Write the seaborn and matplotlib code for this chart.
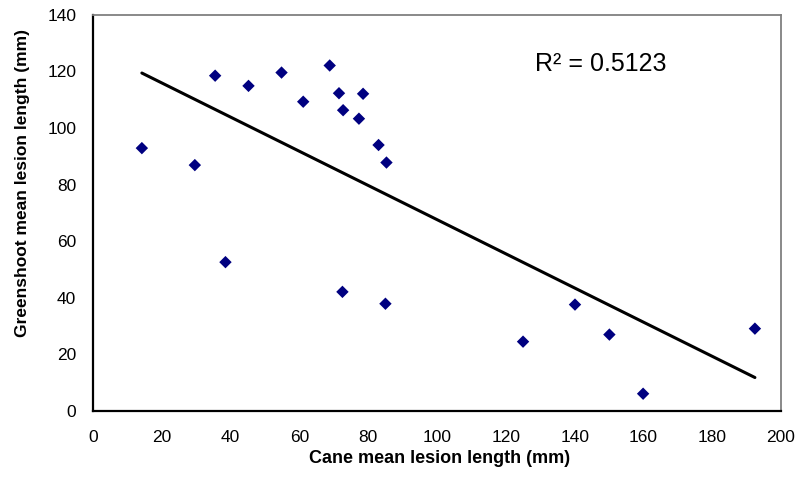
import matplotlib
matplotlib.use("Agg")
import matplotlib.pyplot as plt
import numpy as np
import pandas as pd
import seaborn as sns

# values
cane = [14.2, 29.6, 35.5, 38.5, 45.2, 54.8, 61.1, 68.8, 71.5, 72.7, 72.5,
        77.3, 78.5, 83.0, 85.3, 85.0, 125.0, 140.1, 150.1, 159.9, 192.4]
greenshoot = [92.9, 86.9, 118.5, 52.6, 114.9, 119.6, 109.3, 122.1, 112.3, 106.3, 42.1,
              103.3, 112.1, 94.0, 87.8, 37.9, 24.5, 37.6, 27.0, 6.1, 29.1]
x_ticks = list(range(0, 201, 20))
y_ticks = list(range(0, 141, 20))
r2_label = "R² = 0.5123"

df = pd.DataFrame({"cane": cane, "greenshoot": greenshoot})

sns.set_style("white")
plt.rcParams["font.family"] = ["Liberation Sans", "DejaVu Sans"]
plt.rcParams["text.color"] = "black"
plt.rcParams["axes.labelcolor"] = "black"

fig = plt.figure(figsize=(7.97, 4.79), dpi=100)
ax = fig.add_axes([0.1167, 0.142, 0.8633, 0.827])

sns.regplot(x="cane", y="greenshoot", data=df, ci=None, ax=ax, marker="D",
            scatter_kws={"s": 40, "color": "#000080", "alpha": 1,
                         "edgecolor": "none", "zorder": 3},
            line_kws={"color": "black", "linewidth": 2.2, "zorder": 2})

ax.set_xlim(0, 200)
ax.set_ylim(0, 140)
ax.set_xticks(x_ticks)
ax.set_yticks(y_ticks)
ax.tick_params(direction="in", length=4, width=1, labelsize=12.5, colors="black")
ax.tick_params(axis="x", pad=14)
ax.tick_params(axis="y", pad=12)

for side in ["left", "bottom"]:
    ax.spines[side].set_color("black")
    ax.spines[side].set_linewidth(1.6)
for side in ["top", "right"]:
    ax.spines[side].set_visible(True)
    ax.spines[side].set_color("#808080")
    ax.spines[side].set_linewidth(1.3)

ax.set_xlabel("Cane mean lesion length (mm)", fontsize=13, fontweight="bold")
ax.set_ylabel("Greenshoot mean lesion length (mm)", fontsize=12.5, fontweight="bold")
ax.xaxis.set_label_coords(0.503, -0.119)
ax.yaxis.set_label_coords(-0.103, 0.576)
ax.xaxis.label.set_va("center")
ax.yaxis.label.set_va("center")

ax.text(0.643, 0.876, r2_label, transform=ax.transAxes, fontsize=18, va="center")

fig.savefig("out.png", dpi=100, facecolor="white")
